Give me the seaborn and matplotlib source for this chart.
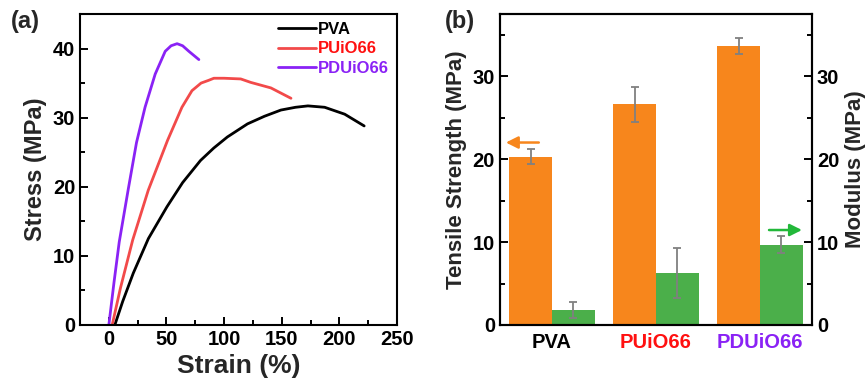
import pandas as pd
import matplotlib.pyplot as plt
import seaborn as sns
from matplotlib.ticker import MultipleLocator

sns.set_style('ticks', {'xtick.direction': 'in', 'ytick.direction': 'in'})
plt.rcParams['font.family'] = ['Liberation Sans', 'DejaVu Sans']
plt.rcParams['font.weight'] = 'bold'
plt.rcParams['axes.labelweight'] = 'bold'
plt.rcParams['xtick.color'] = 'black'
plt.rcParams['ytick.color'] = 'black'

# stress-strain curves
pva_strain = [5.2, 12, 21.2, 34.3, 50.4, 64, 79.5, 91, 102.8, 120.3, 135, 149.3, 162, 172.7, 187.2, 204.6, 221.5]
pva_stress = [0, 3.4, 7.5, 12.5, 17.1, 20.6, 23.8, 25.6, 27.2, 29.1, 30.2, 31.1, 31.5, 31.7, 31.5, 30.5, 28.8]
pu_strain = [2.9, 10, 20.7, 34.2, 50.9, 63.4, 72.1, 80, 86.6, 91.1, 100, 114.4, 123.1, 140.6, 158]
pu_stress = [0, 5.3, 12.3, 19.5, 26.7, 31.5, 33.9, 35.0, 35.4, 35.7, 35.7, 35.6, 35.1, 34.3, 32.8]
pdu_strain = [0, 4.5, 9, 17, 24, 31.4, 40.2, 48.9, 54, 59.2, 64, 69.4, 78.1]
pdu_stress = [0, 6.2, 12, 19.8, 26.4, 31.5, 36.3, 39.6, 40.4, 40.7, 40.4, 39.6, 38.4]

# bar values
samples = ['PVA', 'PUiO66', 'PDUiO66']
tensile = [20.3, 26.6, 33.6]
tensile_err = [0.9, 2.1, 0.95]
modulus = [1.8, 6.3, 9.7]
modulus_err = [1.0, 3.0, 1.05]

line_colors = {'PVA': 'black', 'PUiO66': '#F24A4A', 'PDUiO66': '#8A22F5'}
text_colors = {'PVA': 'black', 'PUiO66': '#FF1010', 'PDUiO66': '#8A22F5'}
orange = '#F7861C'
green = '#4BAF4A'

curves = pd.concat([
    pd.DataFrame({'strain': pva_strain, 'stress': pva_stress, 'sample': 'PVA'}),
    pd.DataFrame({'strain': pu_strain, 'stress': pu_stress, 'sample': 'PUiO66'}),
    pd.DataFrame({'strain': pdu_strain, 'stress': pdu_stress, 'sample': 'PDUiO66'}),
])

bars = pd.concat([
    pd.DataFrame({'sample': samples, 'value': tensile, 'metric': 'Tensile'}),
    pd.DataFrame({'sample': samples, 'value': modulus, 'metric': 'Modulus'}),
])

fig = plt.figure(figsize=(8.68, 3.88), dpi=100)
ax1 = fig.add_axes([0.0922, 0.1624, 0.3652, 0.8016])
ax2 = fig.add_axes([0.576, 0.1624, 0.3595, 0.8016])

# (a) stress-strain
sns.lineplot(data=curves, x='strain', y='stress', hue='sample', palette=line_colors,
             sort=False, estimator=None, linewidth=2, ax=ax1)
ax1.set_xlim(-25, 250)
ax1.set_ylim(0, 45)
ax1.set_xticks([0, 50, 100, 150, 200, 250])
ax1.set_yticks([0, 10, 20, 30, 40])
ax1.xaxis.set_minor_locator(MultipleLocator(25))
ax1.yaxis.set_minor_locator(MultipleLocator(5))
ax1.set_xlabel('Strain (%)', fontsize=19)
ax1.set_ylabel('Stress (MPa)', fontsize=17)
ax1.tick_params(which='both', direction='in', width=1.4, labelsize=14.5,
                bottom=True, left=True, top=False, right=False)
ax1.tick_params(which='major', length=6)
ax1.tick_params(which='minor', length=3.5)
leg = ax1.legend(loc='upper right', frameon=False, fontsize=12, handlelength=2.3,
                 handletextpad=0.1, labelspacing=0.25, borderaxespad=0.1)
for txt in leg.get_texts():
    txt.set_color(text_colors[txt.get_text()])
    txt.set_fontweight('bold')
fig.text(0.012, 0.975, '(a)', fontsize=17, fontweight='bold', va='top')

# (b) bars
sns.barplot(data=bars, x='sample', y='value', hue='metric', palette=[orange, green],
            width=0.82, gap=0, errorbar=None, saturation=1, linewidth=0, legend=False, ax=ax2)
for cont, errs in zip(ax2.containers, [tensile_err, modulus_err]):
    for p, e in zip(cont.patches, errs):
        ax2.errorbar(p.get_x() + p.get_width() / 2, p.get_height(), yerr=e, color='#808080',
                     lw=1.3, capsize=3, capthick=1.3)
ax2.set_xlim(-0.5, 2.5)
ax2.set_ylim(0, 37.5)
ax2.set_yticks([0, 10, 20, 30])
ax2.yaxis.set_minor_locator(MultipleLocator(5))
ax2.set_xlabel('')
ax2.set_ylabel('Tensile Strength (MPa)', fontsize=16)
ax2.tick_params(which='both', direction='in', width=1.4, labelsize=14.5, left=True)
ax2.tick_params(axis='y', which='major', length=6)
ax2.tick_params(axis='y', which='minor', length=3.5)
ax2.tick_params(axis='x', length=0, pad=6)
for lab in ax2.get_xticklabels():
    lab.set_color(text_colors[lab.get_text()])
    lab.set_fontweight('bold')

ax3 = ax2.twinx()
ax3.set_ylim(0, 37.5)
ax3.set_yticks([0, 10, 20, 30])
ax3.yaxis.set_minor_locator(MultipleLocator(5))
ax3.set_ylabel('Modulus (MPa)', fontsize=16, rotation=90, labelpad=4)
ax3.tick_params(which='both', direction='in', width=1.4, labelsize=14.5, right=True)
ax3.tick_params(which='major', length=6)
ax3.tick_params(which='minor', length=3.5)

ax2.annotate('', xy=(-0.47, 22), xytext=(-0.1, 22),
             arrowprops=dict(arrowstyle='-|>', color=orange, lw=1.8, mutation_scale=18))
ax2.annotate('', xy=(2.43, 11.45), xytext=(2.06, 11.45),
             arrowprops=dict(arrowstyle='-|>', color='#22B83A', lw=1.8, mutation_scale=18))
fig.text(0.512, 0.975, '(b)', fontsize=17, fontweight='bold', va='top')

for a in (ax1, ax2, ax3):
    for s in a.spines.values():
        s.set_visible(True)
        s.set_linewidth(1.5)
        s.set_color('black')

fig.savefig('out.png', dpi=100)
